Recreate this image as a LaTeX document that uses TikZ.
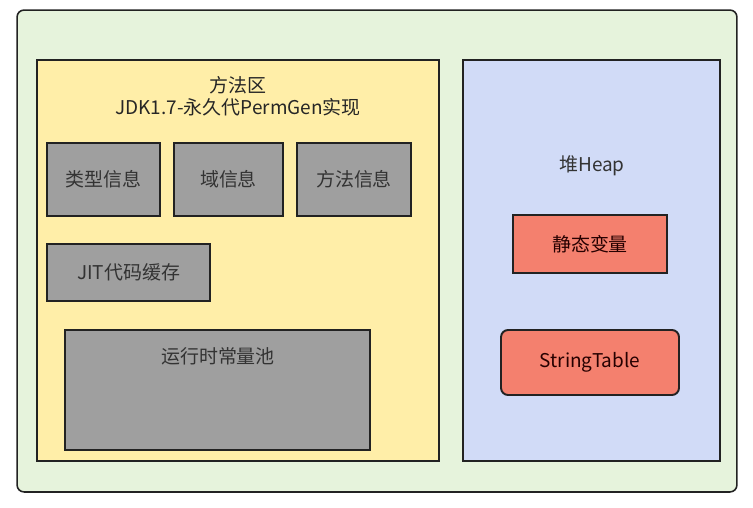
\documentclass[tikz,border=0pt]{standalone}
\usepackage{fontspec}
\setmainfont{Noto Sans CJK SC}
\definecolor{outerbg}{HTML}{E6F3DC}
\definecolor{permbg}{HTML}{FFEEA8}
\definecolor{heapbg}{HTML}{D1DBF7}
\definecolor{cellgray}{HTML}{9F9F9F}
\definecolor{salmon}{HTML}{F4806E}
\definecolor{edge}{HTML}{222222}
\begin{document}
\begin{tikzpicture}[x=0.02cm,y=-0.02cm,every node/.style={font=\fontsize{10.8}{12.5}\selectfont},
  area/.style={draw=edge,line width=1.1pt,inner sep=0pt},
  cell/.style={area,fill=cellgray,text=black!80},
  hot/.style={area,fill=salmon,text=black!75!red!60!black}]
 \useasboundingbox (0,0) rectangle (753,507);
 % outer frame
 \node[area,line width=0.9pt,fill=outerbg,rounded corners=4pt,minimum width=14.4cm,minimum height=9.64cm] (jvm) at (377,251) {};
 % method area
 \node[area,fill=permbg,minimum width=8.04cm,minimum height=8.02cm] (perm) at (238,260.5) {};
 \node[align=center,text=black!85] (permtitle) at (238,96) {方法区\\JDK1.7-永久代PermGen实现};
 \node[cell,minimum width=2.26cm,minimum height=1.46cm] (typeinfo) at (103.5,179.5) {类型信息};
 \node[cell,minimum width=2.18cm,minimum height=1.46cm] (fieldinfo) at (228.5,179.5) {域信息};
 \node[cell,minimum width=2.28cm,minimum height=1.46cm] (methodinfo) at (354,179.5) {方法信息};
 \node[cell,minimum width=3.26cm,minimum height=1.14cm] (jit) at (128.5,272.5) {JIT代码缓存};
 \node[cell,minimum width=6.1cm,minimum height=2.4cm] (pool) at (217.5,390) {};
 \node[text=black!80] (pooltitle) at (218,356) {运行时常量池};
 % heap
 \node[area,fill=heapbg,minimum width=5.14cm,minimum height=8.02cm] (heap) at (591.5,260.5) {};
 \node[text=black!80] (heaptitle) at (592,166) {堆Heap};
 \node[hot,minimum width=3.08cm,minimum height=1.16cm] (statics) at (590,244) {静态变量};
 \node[hot,rounded corners=4pt,minimum width=3.56cm,minimum height=1.3cm] (strtab) at (590,362.5) {StringTable};
\end{tikzpicture}
\end{document}
